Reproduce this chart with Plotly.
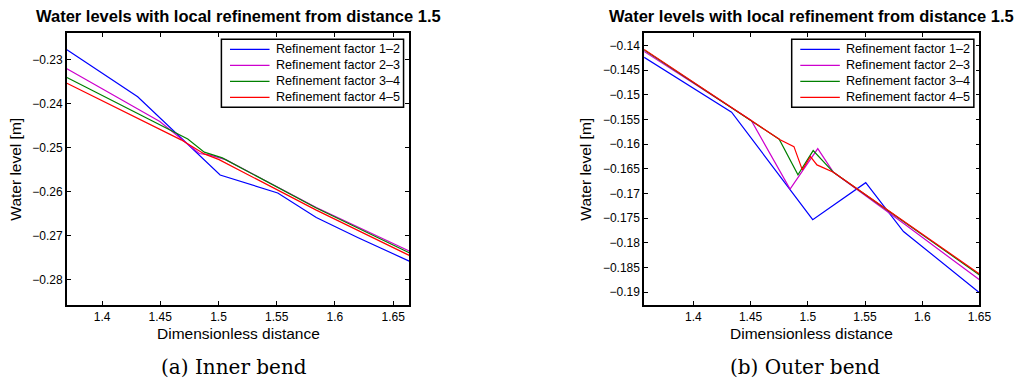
import plotly.graph_objects as go

W, H = 1033, 383

# ---------------- data: inner bend (a) ----------------
inner_x_12 = [1.3698, 1.4306, 1.5014, 1.5509, 1.584, 1.62, 1.6638]
inner_y_12 = [-0.2277, -0.2384, -0.2562, -0.2603, -0.2659, -0.2705, -0.2758]
inner_x_23 = [1.3698, 1.4496, 1.4835, 1.492, 1.5061, 1.584, 1.6638]
inner_y_23 = [-0.2320, -0.2440, -0.2513, -0.2516, -0.2527, -0.2636, -0.2735]
inner_x_34 = [1.3698, 1.4736, 1.4878, 1.5033, 1.584, 1.6638]
inner_y_34 = [-0.2340, -0.2480, -0.2510, -0.2523, -0.2637, -0.2739]
inner_x_45 = [1.3698, 1.4679, 1.4878, 1.5005, 1.584, 1.6638]
inner_y_45 = [-0.2353, -0.2482, -0.2514, -0.2527, -0.2642, -0.2745]

# ---------------- data: outer bend (b) ----------------
outer_x_12 = [1.357, 1.4334, 1.5043, 1.5506, 1.5836, 1.62, 1.65]
outer_y_12 = [-0.1424, -0.1535, -0.1753, -0.1678, -0.1777, -0.1845, -0.1901]
outer_x_23 = [1.357, 1.4506, 1.4845, 1.5087, 1.5224, 1.585, 1.65]
outer_y_23 = [-0.1412, -0.1552, -0.1691, -0.1609, -0.1657, -0.1763, -0.1875]
outer_x_34 = [1.357, 1.475, 1.4914, 1.5047, 1.5224, 1.65]
outer_y_34 = [-0.1409, -0.1590, -0.1662, -0.1613, -0.1657, -0.1865]
outer_x_45 = [1.357, 1.4758, 1.4879, 1.4952, 1.5023, 1.508, 1.5224, 1.65]
outer_y_45 = [-0.1408, -0.1591, -0.1605, -0.1652, -0.1625, -0.1642, -0.1657, -0.1863]

series_names = ["Refinement factor 1\u20132", "Refinement factor 2\u20133",
                "Refinement factor 3\u20134", "Refinement factor 4\u20135"]
series_colors = ["rgb(0,0,255)", "rgb(205,0,205)", "rgb(0,128,0)", "rgb(255,0,0)"]

x_ticks = [1.4, 1.45, 1.5, 1.55, 1.6, 1.65]
x_ticktext = ["1.4", "1.45", "1.5", "1.55", "1.6", "1.65"]
inner_y_ticks = [-0.28, -0.27, -0.26, -0.25, -0.24, -0.23]
inner_y_ticktext = ["\u22120.28", "\u22120.27", "\u22120.26", "\u22120.25", "\u22120.24", "\u22120.23"]
outer_y_ticks = [-0.19, -0.185, -0.18, -0.175, -0.17, -0.165, -0.16, -0.155, -0.15, -0.145, -0.14]
outer_y_ticktext = ["\u22120.19", "\u22120.185", "\u22120.18", "\u22120.175", "\u22120.17", "\u22120.165",
                    "\u22120.16", "\u22120.155", "\u22120.15", "\u22120.145", "\u22120.14"]

title_text = "Water levels with local refinement from distance 1.5"
xlabel = "Dimensionless distance"
ylabel = "Water level [m]"
captions = ["(a) Inner bend", "(b) Outer bend"]

SANS = "Liberation Sans, Arial, Helvetica, sans-serif"
SERIF = "DejaVu Serif, serif"

fig = go.Figure()

inner = [(inner_x_12, inner_y_12), (inner_x_23, inner_y_23), (inner_x_34, inner_y_34), (inner_x_45, inner_y_45)]
outer = [(outer_x_12, outer_y_12), (outer_x_23, outer_y_23), (outer_x_34, outer_y_34), (outer_x_45, outer_y_45)]

for (xs, ys), name, col in zip(inner, series_names, series_colors):
    fig.add_trace(go.Scatter(x=xs, y=ys, mode="lines", name=name,
                             line=dict(color=col, width=1.2),
                             xaxis="x", yaxis="y", showlegend=False))
for (xs, ys), name, col in zip(outer, series_names, series_colors):
    fig.add_trace(go.Scatter(x=xs, y=ys, mode="lines", name=name,
                             line=dict(color=col, width=1.2),
                             xaxis="x2", yaxis="y2", showlegend=False))

def px2x(p):
    return p / W

def px2y(p):
    return 1 - p / H

top_px, bot_px = 32.7, 305.0
L1, R1 = 67.7, 414.0
L2, R2 = 651.7, 991.0

axis_common = dict(showline=True, linecolor="black", linewidth=1.6, mirror="allticks",
                   ticks="inside", ticklen=4, tickwidth=1, tickcolor="black",
                   showgrid=False, zeroline=False,
                   tickfont=dict(family=SANS, size=12, color="black"))

fig.update_layout(
    width=W, height=H,
    margin=dict(l=0, r=0, t=0, b=0),
    paper_bgcolor="white", plot_bgcolor="white",
    showlegend=False,
    xaxis=dict(domain=[px2x(L1), px2x(R1)], range=[1.3698, 1.6638], anchor="y",
               tickvals=x_ticks, ticktext=x_ticktext, **axis_common),
    yaxis=dict(domain=[px2y(bot_px), px2y(top_px)], range=[-0.2858, -0.2238], anchor="x",
               tickvals=inner_y_ticks, ticktext=inner_y_ticktext, **axis_common),
    xaxis2=dict(domain=[px2x(L2), px2x(R2)], range=[1.357, 1.65], anchor="y2",
                tickvals=x_ticks, ticktext=x_ticktext, **axis_common),
    yaxis2=dict(domain=[px2y(bot_px), px2y(top_px)], range=[-0.1926, -0.1374], anchor="x2",
                tickvals=outer_y_ticks, ticktext=outer_y_ticktext, **axis_common),
)

ann = []
shapes = []

# legend boxes (one per panel), drawn as a framed key
for box_left in [224.0, 801.0]:
    box_right = box_left + 184.3
    shapes.append(dict(type="rect", xref="paper", yref="paper",
                       x0=px2x(box_left), x1=px2x(box_right), y0=px2y(107.3), y1=px2y(39.3),
                       line=dict(color="black", width=1.5), fillcolor="white", layer="above"))
    for i, (name, col) in enumerate(zip(series_names, series_colors)):
        row_y = 49.3 + 16 * i
        shapes.append(dict(type="line", xref="paper", yref="paper",
                           x0=px2x(box_left + 8.7), x1=px2x(box_left + 48.7),
                           y0=px2y(row_y), y1=px2y(row_y),
                           line=dict(color=col, width=1.2), layer="above"))
        ann.append(dict(text=name, x=px2x(box_left + 53.3), y=px2y(row_y), xref="paper", yref="paper",
                        showarrow=False, xanchor="left", yanchor="middle",
                        font=dict(family=SANS, size=12.6, color="black")))

for cx in [(L1 + R1) / 2, (L2 + R2) / 2]:
    ann.append(dict(text="<b>" + title_text + "</b>", x=px2x(cx), y=px2y(16), xref="paper", yref="paper",
                    showarrow=False, xanchor="center", yanchor="middle",
                    font=dict(family=SANS, size=16.5, color="black")))
    ann.append(dict(text=xlabel, x=px2x(cx), y=px2y(333), xref="paper", yref="paper",
                    showarrow=False, xanchor="center", yanchor="middle",
                    font=dict(family=SANS, size=15.5, color="black")))
for lx in [16, 592.7]:
    ann.append(dict(text=ylabel, x=px2x(lx), y=px2y((top_px + bot_px) / 2), xref="paper", yref="paper",
                    showarrow=False, xanchor="center", yanchor="middle", textangle=-90,
                    font=dict(family=SANS, size=15.5, color="black")))
for cap, cx in zip(captions, [236.7, 814]):
    ann.append(dict(text=cap, x=px2x(cx), y=px2y(366.7), xref="paper", yref="paper",
                    showarrow=False, xanchor="center", yanchor="middle",
                    font=dict(family=SERIF, size=20, color="black")))
fig.update_layout(annotations=ann, shapes=shapes)

fig.write_html("out.html")
